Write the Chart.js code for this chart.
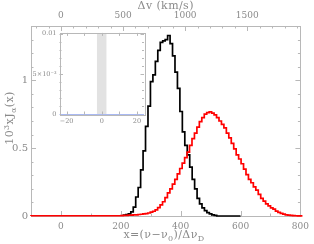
<!DOCTYPE html>
<html><head><meta charset="utf-8">
<script src="https://cdn.jsdelivr.net/npm/chart.js@4.4.0/dist/chart.umd.min.js"></script>
<style>
html,body{margin:0;padding:0;background:#fff;}
#wrap{position:relative;width:314px;height:244px;overflow:hidden;}
#main{position:absolute;left:0;top:0;}
#inset{position:absolute;left:20px;top:26px;}
</style></head><body>
<div id="wrap"><canvas id="main" width="314" height="244"></canvas><canvas id="inset" width="132" height="102"></canvas></div>
<script>
// ---- data ----
const binWidth = 8.2;
const blackStart = 208.8;
const blackEnd = 600;
const blackValues = [0.003,0.006,0.01,0.016,0.03,0.065,0.14,0.21,0.34,0.48,0.66,0.81,0.99,1.04,1.14,1.22,1.28,1.29,1.30,1.33,1.27,1.18,1.06,0.94,0.77,0.62,0.52,0.45,0.36,0.27,0.20,0.13,0.09,0.06,0.04,0.025,0.015,0.008,0.004,0];
const redLead = -100;
const redStart = 200;
const redValues = [0.002,0.003,0.004,0.005,0.006,0.007,0.008,0.009,0.011,0.013,0.015,0.018,0.022,0.028,0.035,0.045,0.062,0.082,0.105,0.135,0.17,0.2,0.235,0.27,0.31,0.35,0.39,0.43,0.47,0.52,0.57,0.61,0.655,0.695,0.725,0.75,0.762,0.767,0.758,0.745,0.725,0.70,0.675,0.65,0.61,0.575,0.535,0.495,0.45,0.42,0.385,0.345,0.305,0.27,0.245,0.215,0.19,0.16,0.13,0.11,0.09,0.075,0.06,0.05,0.036,0.027,0.02,0.014,0.009,0.007,0.005,0.003,0.002,0.001];
const xTicks = [0,200,400,600,800];
const xTickLabels = ['0','200','400','600','800'];
const yTicks = [0,0.5,1];
const yTickLabels = ['0','0.5','1'];
const topTicks = [0,500,1000,1500];
const topTickLabels = ['0','500','1000','1500'];
const kmsPerX = 2.41;
const xRange = [-100,800];
const yRange = [0,1.4];
const insetXTicks = [-20,0,20];
const insetXTickLabels = ['\u221220','0','20'];
const insetYTicks = [0,0.005,0.01];
const insetYTickLabels = ['0','5\u00d710\u207b\u00b3','0.01'];
const insetXRange = [-24,24];
const insetYRange = [0,0.0101];
const insetBand = [-2.8,2.8];
const insetLine = [-24,24];

// ---- helpers ----
function histPoints(start, w, vals, lead, end){
  const pts = [];
  if (lead !== null) pts.push({x:lead, y:0});
  else pts.push({x:start, y:0});
  vals.forEach((v,i)=>pts.push({x:start+i*w, y:v}));
  const last = start+vals.length*w;
  pts.push({x:last, y:vals[vals.length-1]});
  if (end !== null && end > last) pts.push({x:end, y:vals[vals.length-1]});
  return pts;
}
const GRAY = '#b8b8b8';
const TXT = '#8a8a8a';
const FONT = "'DejaVu Serif', 'Liberation Serif', serif";
const setTicks = arr => s => { s.ticks = arr.map(v=>({value:v})); };
const labelFrom = (vals, labels) => v => { const i = vals.findIndex(t => Math.abs(t-v) < 1e-9); return i<0 ? '' : labels[i]; };

function drawRich(ctx, parts, size){
  let w = 0;
  parts.forEach(([t,m])=>{
    ctx.font = (m==='n'? size : Math.round(size*0.7)) + 'px ' + FONT;
    w += ctx.measureText(t).width;
  });
  return w;
}
function paintRich(ctx, parts, size, x, y){
  parts.forEach(([t,m])=>{
    const s = m==='n'? size : Math.round(size*0.7);
    ctx.font = s + 'px ' + FONT;
    const dy = m==='sub' ? size*0.3 : (m==='sup' ? -size*0.4 : 0);
    ctx.fillText(t, x, y+dy);
    x += ctx.measureText(t).width;
  });
}

function tickMarks(ctx, scale, from, to, step, majorEvery, side, area, lenMajor, lenMinor){
  const n = Math.round((to-from)/step);
  for (let i=0;i<=n;i++){
    const v = from + i*step;
    const major = Math.abs(v/majorEvery - Math.round(v/majorEvery)) < 1e-6;
    const L = major ? lenMajor : lenMinor;
    const p = Math.round(scale.getPixelForValue(v)) + 0.5;
    ctx.beginPath();
    if (side==='bottom'){ if(p<area.left-0.1||p>area.right+0.6) continue; ctx.moveTo(p, area.bottom); ctx.lineTo(p, area.bottom-L); }
    if (side==='top'){ if(p<area.left-0.1||p>area.right+0.6) continue; ctx.moveTo(p, area.top); ctx.lineTo(p, area.top+L); }
    if (side==='left'){ if(p<area.top-0.1||p>area.bottom+0.6) continue; ctx.moveTo(area.left, p); ctx.lineTo(area.left+L, p); }
    if (side==='right'){ if(p<area.top-0.1||p>area.bottom+0.6) continue; ctx.moveTo(area.right, p); ctx.lineTo(area.right-L, p); }
    ctx.stroke();
  }
}

// ---- main chart ----
const mainFrame = {
  id:'mainFrame',
  beforeDatasetsDraw(chart){
    const ctx = chart.ctx, a = chart.chartArea, sc = chart.scales;
    ctx.save();
    ctx.strokeStyle = GRAY; ctx.lineWidth = 1;
    ctx.strokeRect(Math.round(a.left)+0.5, Math.round(a.top)+0.5, Math.round(a.right-a.left), Math.round(a.bottom-a.top));
    tickMarks(ctx, sc.x, -100, 800, 100, 200, 'bottom', a, 5, 2.5);
    tickMarks(ctx, sc.x2, -200, 1900, 100, 500, 'top', a, 5, 2.5);
    tickMarks(ctx, sc.y, 0, 1.4, 0.1, 0.5, 'left', a, 5, 2.5);
    tickMarks(ctx, sc.y, 0, 1.4, 0.1, 0.5, 'right', a, 5, 2.5);
    ctx.restore();
  },
  afterDraw(chart){
    const ctx = chart.ctx, a = chart.chartArea;
    ctx.save();
    ctx.fillStyle = TXT; ctx.textBaseline = 'alphabetic';
    try { ctx.letterSpacing = '0.4px'; } catch(e){}
    const topT = [['\u0394v (km/s)','n']];
    let w = drawRich(ctx, topT, 11);
    paintRich(ctx, topT, 11, (a.left+a.right)/2 - w/2, 9);
    const xT = [['x=(\u03bd\u2212\u03bd','n'],['0','sub'],[')/\u0394\u03bd','n'],['D','sub']];
    w = drawRich(ctx, xT, 11);
    paintRich(ctx, xT, 11, 164 - w/2, 238);
    const yT = [['10','n'],['3','sup'],['xJ','n'],['\u03b1','sub'],['(x)','n']];
    w = drawRich(ctx, yT, 11);
    ctx.translate(13, 118);
    ctx.rotate(-Math.PI/2);
    paintRich(ctx, yT, 11, -w/2, 0);
    ctx.restore();
  }
};

const tickFont = {family: FONT, size: 9};
const noGrid = {display:false, drawTicks:false};
new Chart(document.getElementById('main'), {
  type:'line',
  data:{datasets:[
    {label:'red', data: histPoints(redStart, binWidth, redValues, redLead, null), borderColor:'#ff0000', borderWidth:1.7, pointRadius:0, stepped:'after', order:0, fill:false, clip:3},
    {label:'black', data: histPoints(blackStart, binWidth, blackValues, null, blackEnd), borderColor:'#000000', borderWidth:1.7, pointRadius:0, stepped:'after', order:1, fill:false, clip:3}
  ]},
  options:{
    responsive:false, animation:false,
    layout:{padding:{left:0, right:8.5, top:0, bottom:0}},
    plugins:{legend:{display:false}, tooltip:{enabled:false}},
    scales:{
      x:{type:'linear', position:'bottom', min:xRange[0], max:xRange[1], afterBuildTicks:setTicks(xTicks), afterFit:s=>{s.height=28;},
         grid:noGrid, border:{display:false}, ticks:{font:tickFont, color:TXT, padding:5, maxRotation:0, autoSkip:false, callback:labelFrom(xTicks,xTickLabels)}},
      x2:{type:'linear', axis:'x', position:'top', min:xRange[0]*kmsPerX, max:xRange[1]*kmsPerX, afterBuildTicks:setTicks(topTicks), afterFit:s=>{s.height=26;},
         grid:noGrid, border:{display:false}, ticks:{font:tickFont, color:TXT, padding:5, maxRotation:0, autoSkip:false, callback:labelFrom(topTicks,topTickLabels)}},
      y:{type:'linear', position:'left', min:yRange[0], max:yRange[1], afterBuildTicks:setTicks(yTicks), afterFit:s=>{s.width=31;},
         grid:noGrid, border:{display:false}, ticks:{font:{family:FONT,size:10}, color:TXT, padding:3, autoSkip:false, callback:labelFrom(yTicks,yTickLabels)}}
    }
  },
  plugins:[mainFrame]
});

// ---- inset chart ----
const insetFrame = {
  id:'insetFrame',
  afterDraw(chart){
    const ctx = chart.ctx, a = chart.chartArea, sc = chart.scales;
    ctx.save();
    ctx.strokeStyle = GRAY; ctx.lineWidth = 1;
    ctx.strokeRect(Math.round(a.left)+0.5, Math.round(a.top)+0.5, Math.round(a.right-a.left), Math.round(a.bottom-a.top));
    tickMarks(ctx, sc.x, -20, 20, 10, 20, 'bottom', a, 3, 3);
    tickMarks(ctx, sc.x, -20, 20, 10, 20, 'top', a, 3, 3);
    tickMarks(ctx, sc.y, 0, 0.01, 0.001, 0.005, 'left', a, 3.5, 2);
    tickMarks(ctx, sc.y, 0, 0.01, 0.001, 0.005, 'right', a, 3.5, 2);
    ctx.restore();
  }
};
const insetFont = {family: FONT, size: 6.5};
new Chart(document.getElementById('inset'), {
  type:'line',
  data:{datasets:[
    {label:'band', data:[{x:insetBand[0], y:insetYRange[1]},{x:insetBand[1], y:insetYRange[1]}], fill:'origin', backgroundColor:'#e2e2e2', borderWidth:0, borderColor:'rgba(0,0,0,0)', pointRadius:0, order:1},
    {label:'line', data:[{x:insetLine[0], y:0},{x:insetLine[1], y:0}], borderColor:'#a9b9f2', borderWidth:1.2, pointRadius:0, fill:false, clip:3, order:0}
  ]},
  options:{
    responsive:false, animation:false,
    layout:{padding:{left:0, right:8, top:6, bottom:0}},
    plugins:{legend:{display:false}, tooltip:{enabled:false}},
    scales:{
      x:{type:'linear', min:insetXRange[0], max:insetXRange[1], afterBuildTicks:setTicks(insetXTicks), afterFit:s=>{s.height=13.5;},
         grid:noGrid, border:{display:false}, ticks:{font:insetFont, color:TXT, padding:3, maxRotation:0, autoSkip:false, callback:labelFrom(insetXTicks,insetXTickLabels)}},
      y:{type:'linear', min:insetYRange[0], max:insetYRange[1], afterBuildTicks:setTicks(insetYTicks), afterFit:s=>{s.width=39.5;},
         grid:noGrid, border:{display:false}, ticks:{font:insetFont, color:TXT, padding:3, autoSkip:false, callback:labelFrom(insetYTicks,insetYTickLabels)}}
    }
  },
  plugins:[insetFrame]
});
</script>
</body></html>
